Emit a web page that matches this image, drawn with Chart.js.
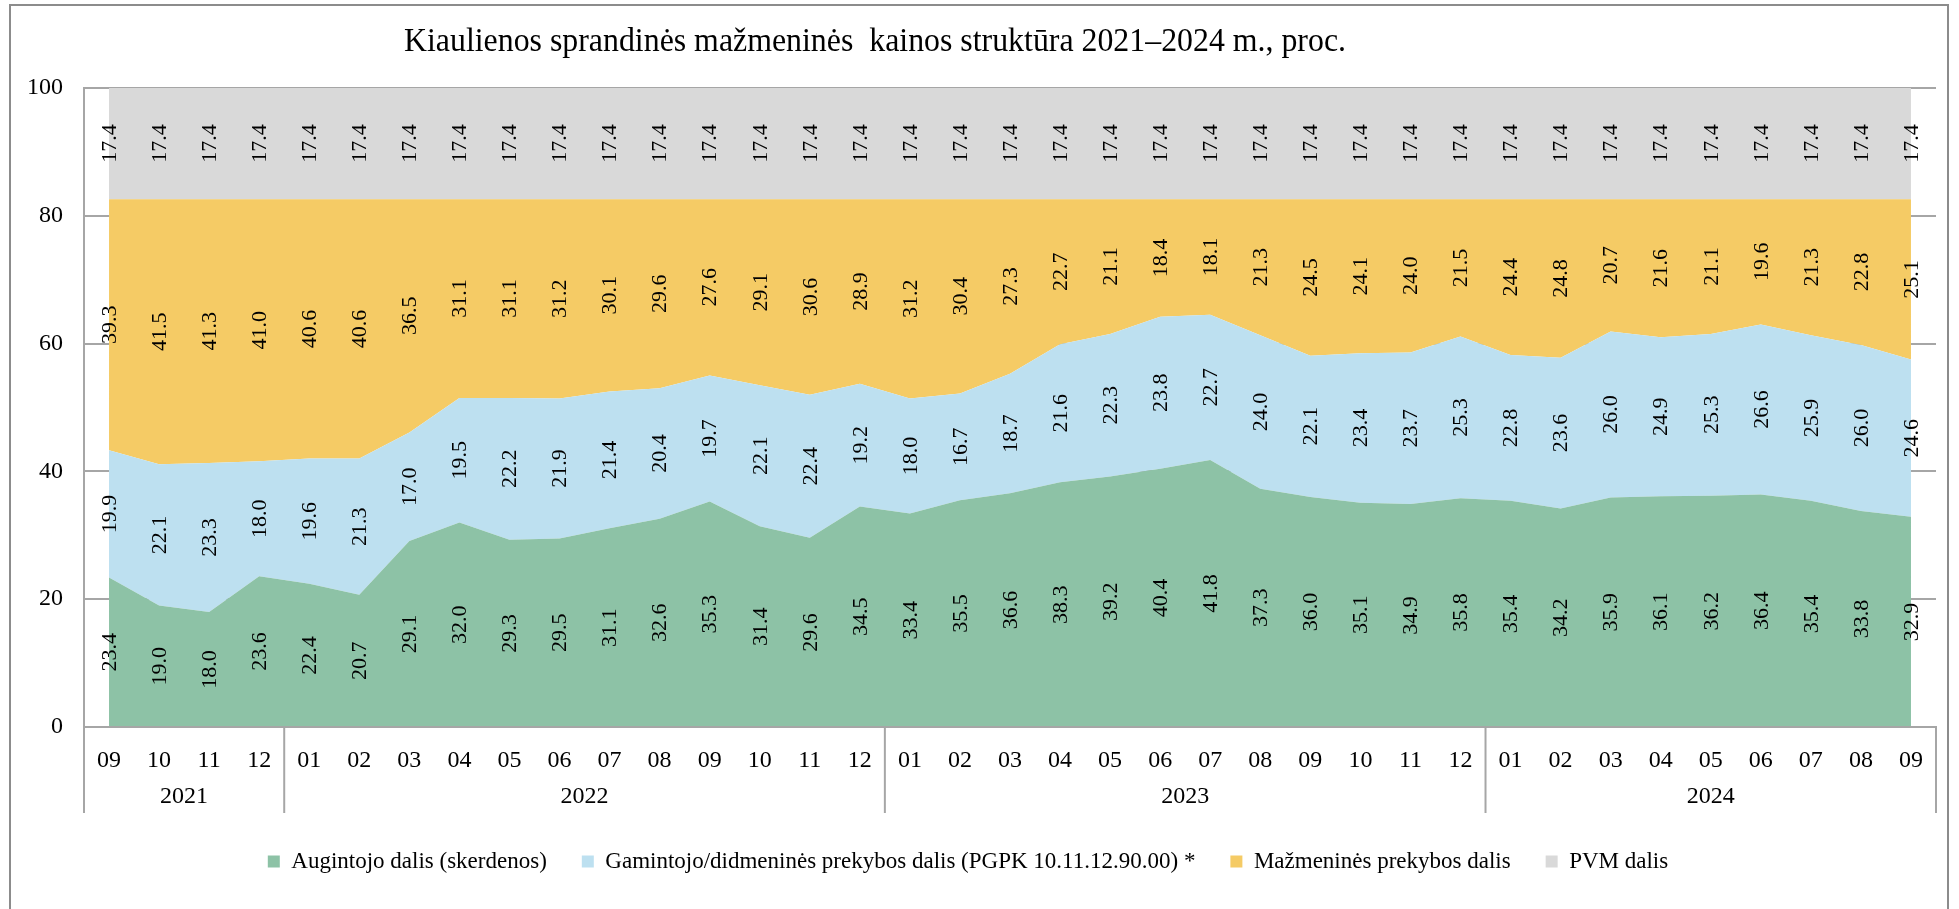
<!DOCTYPE html>
<html>
<head>
<meta charset="utf-8">
<script src="https://cdn.jsdelivr.net/npm/chart.js@4.4.1/dist/chart.umd.min.js"></script>
<style>
  html, body { margin: 0; padding: 0; background: #fff; }
  #wrap { width: 1959px; height: 909px; }
</style>
</head>
<body>
<div id="wrap"><canvas id="chart" width="1959" height="909"></canvas></div>
<script>
const title = 'Kiaulienos sprandinės mažmeninės  kainos struktūra 2021–2024 m., proc.';

const months = [
  '09', '10', '11', '12',
  '01', '02', '03', '04', '05', '06', '07', '08', '09', '10', '11', '12',
  '01', '02', '03', '04', '05', '06', '07', '08', '09', '10', '11', '12',
  '01', '02', '03', '04', '05', '06', '07', '08', '09'
];
const years = ['2021', '2022', '2023', '2024'];
const monthsPerYear = [4, 12, 12, 9];

const seriesNames = [
  'Augintojo dalis (skerdenos)',
  'Gamintojo/didmeninės prekybos dalis (PGPK 10.11.12.90.00) *',
  'Mažmeninės prekybos dalis',
  'PVM dalis'
];

const augintojo = [23.4, 19.0, 18.0, 23.6,
  22.4, 20.7, 29.1, 32.0, 29.3, 29.5, 31.1, 32.6, 35.3, 31.4, 29.6, 34.5,
  33.4, 35.5, 36.6, 38.3, 39.2, 40.4, 41.8, 37.3, 36.0, 35.1, 34.9, 35.8,
  35.4, 34.2, 35.9, 36.1, 36.2, 36.4, 35.4, 33.8, 32.9];
const gamintojo = [19.9, 22.1, 23.3, 18.0,
  19.6, 21.3, 17.0, 19.5, 22.2, 21.9, 21.4, 20.4, 19.7, 22.1, 22.4, 19.2,
  18.0, 16.7, 18.7, 21.6, 22.3, 23.8, 22.7, 24.0, 22.1, 23.4, 23.7, 25.3,
  22.8, 23.6, 26.0, 24.9, 25.3, 26.6, 25.9, 26.0, 24.6];
const mazmenine = [39.3, 41.5, 41.3, 41.0,
  40.6, 40.6, 36.5, 31.1, 31.1, 31.2, 30.1, 29.6, 27.6, 29.1, 30.6, 28.9,
  31.2, 30.4, 27.3, 22.7, 21.1, 18.4, 18.1, 21.3, 24.5, 24.1, 24.0, 21.5,
  24.4, 24.8, 20.7, 21.6, 21.1, 19.6, 21.3, 22.8, 25.1];
const pvm = [17.4, 17.4, 17.4, 17.4,
  17.4, 17.4, 17.4, 17.4, 17.4, 17.4, 17.4, 17.4, 17.4, 17.4, 17.4, 17.4,
  17.4, 17.4, 17.4, 17.4, 17.4, 17.4, 17.4, 17.4, 17.4, 17.4, 17.4, 17.4,
  17.4, 17.4, 17.4, 17.4, 17.4, 17.4, 17.4, 17.4, 17.4];

const yMin = 0, yMax = 100, yStep = 20;

const FONT = "'Liberation Serif', 'Times New Roman', serif";
const AXIS_GREY = '#a6a6a6';

// vertical values on every band + title + year row + border
const extrasPlugin = {
  id: 'extras',
  afterDatasetsDraw(chart) {
    const ctx = chart.ctx;
    const yScale = chart.scales.y;
    ctx.save();
    ctx.font = '22px ' + FONT;
    ctx.fillStyle = '#000';
    ctx.textAlign = 'center';
    ctx.textBaseline = 'middle';
    chart.data.datasets.forEach((ds, d) => {
      const meta = chart.getDatasetMeta(d);
      meta.data.forEach((el, j) => {
        const bottom = d === 0 ? yScale.getPixelForValue(0) : chart.getDatasetMeta(d - 1).data[j].y;
        const cy = (el.y + bottom) / 2;
        ctx.save();
        ctx.translate(el.x, cy);
        ctx.rotate(-Math.PI / 2);
        ctx.fillText(ds.data[j].toFixed(1), 0, 1);
        ctx.restore();
      });
    });
    ctx.restore();
  },
  afterDraw(chart) {
    const ctx = chart.ctx;
    const x = chart.scales.x;
    const area = chart.chartArea;
    ctx.save();

    // year groups under the month labels
    const sepBottom = area.bottom + 86;
    const bounds = [area.left];
    let idx = 0;
    monthsPerYear.forEach((n, g) => {
      idx += n;
      if (g < monthsPerYear.length - 1) {
        bounds.push((x.getPixelForValue(idx - 1) + x.getPixelForValue(idx)) / 2);
      }
    });
    bounds.push(area.right);

    ctx.strokeStyle = AXIS_GREY;
    ctx.lineWidth = 2;
    bounds.forEach(b => {
      ctx.beginPath();
      ctx.moveTo(b, area.bottom);
      ctx.lineTo(b, sepBottom);
      ctx.stroke();
    });

    ctx.font = '24px ' + FONT;
    ctx.fillStyle = '#000';
    ctx.textAlign = 'center';
    ctx.textBaseline = 'middle';
    years.forEach((yr, g) => {
      ctx.fillText(yr, (bounds[g] + bounds[g + 1]) / 2, area.bottom + 70);
    });

    // title (Excel squeezes it a bit horizontally)
    ctx.font = '34px ' + FONT;
    ctx.textAlign = 'left';
    ctx.textBaseline = 'alphabetic';
    const w = ctx.measureText(title).width;
    ctx.translate(404, 51);
    ctx.scale(942 / w, 1);
    ctx.fillText(title, 0, 0);
    ctx.restore();

    // outer frame
    ctx.save();
    ctx.strokeStyle = '#8c8c8c';
    ctx.lineWidth = 2;
    ctx.strokeRect(10, 5, 1938, 930);
    ctx.restore();
  }
};

new Chart(document.getElementById('chart'), {
  type: 'line',
  data: {
    labels: months,
    datasets: [
      { label: seriesNames[0], data: augintojo, backgroundColor: '#8dc2a6', fill: 'origin' },
      { label: seriesNames[1], data: gamintojo, backgroundColor: '#bde0f0', fill: '-1' },
      { label: seriesNames[2], data: mazmenine, backgroundColor: '#f5cb65', fill: '-1' },
      { label: seriesNames[3], data: pvm, backgroundColor: '#d9d9d9', fill: '-1' }
    ]
  },
  options: {
    responsive: false,
    animation: false,
    elements: {
      point: { radius: 0, hoverRadius: 0 },
      line: { borderWidth: 0, tension: 0 }
    },
    layout: { padding: { top: 88, right: 23, left: 0, bottom: 26 } },
    scales: {
      x: {
        offset: true,
        grid: { display: false },
        border: { color: AXIS_GREY, width: 2, z: 1 },
        ticks: { font: { family: FONT, size: 24 }, color: '#000', padding: 11, maxRotation: 0, autoSkip: false },
        afterFit: s => { s.height = 88; }
      },
      y: {
        stacked: true,
        min: yMin,
        max: yMax,
        grid: { color: AXIS_GREY, lineWidth: 2, drawTicks: false },
        border: { color: AXIS_GREY, width: 2 },
        ticks: { stepSize: yStep, font: { family: FONT, size: 24 }, color: '#000', padding: 21 },
        afterFit: s => { s.width = 84; }
      }
    },
    plugins: {
      legend: {
        position: 'bottom',
        labels: { font: { family: FONT, size: 23 }, color: '#000', boxWidth: 12, boxHeight: 12, padding: 35 }
      },
      title: { display: false },
      tooltip: { enabled: false }
    }
  },
  plugins: [extrasPlugin]
});
</script>
</body>
</html>
